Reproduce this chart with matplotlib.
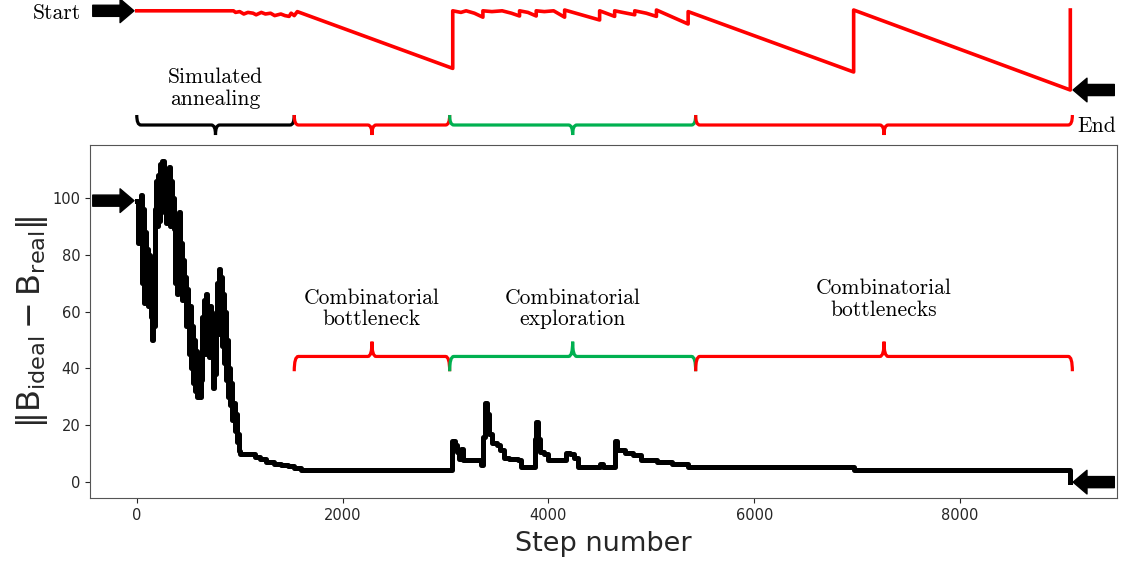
import numpy as np
import matplotlib
matplotlib.use('Agg')
import matplotlib.pyplot as plt
from matplotlib.path import Path
from matplotlib.patches import PathPatch


# noisy simulated annealing part, one value every 10 steps (0 .. 1000)
noisy_vals = [99, 84, 97, 88, 101, 70, 96, 63, 88, 66,
              82, 62, 80, 70, 58, 50, 72, 55, 96, 106,
              90, 108, 92, 112, 95, 113, 100, 110, 91, 108,
              94, 111, 90, 106, 92, 100, 89, 70, 80, 66,
              88, 95, 72, 84, 64, 78, 66, 72, 55, 68,
              58, 45, 62, 40, 55, 35, 50, 32, 46, 30,
              42, 30, 36, 58, 48, 64, 45, 66, 52, 60,
              44, 62, 46, 56, 33, 50, 38, 60, 70, 52,
              75, 58, 72, 48, 66, 42, 60, 36, 50, 30,
              40, 27, 35, 22, 28, 18, 24, 14, 17, 11]

# rest of the run, staircase (step, value)
tail_steps = [1000, 1150, 1200, 1260, 1330, 1400, 1470, 1530, 1600,
              3065, 3090, 3110, 3130, 3150, 3170, 3340, 3360, 3385, 3400,
              3420, 3450, 3500, 3530, 3570, 3620, 3700, 3735,
              3870, 3880, 3895, 3920, 3960, 4000, 4170, 4210, 4250, 4287,
              4500, 4525, 4650, 4670, 4740, 4820, 4900, 5050, 5200, 5360,
              6965, 9070]
tail_vals = [10, 9, 8, 7, 6.5, 6, 5.5, 5, 4.3,
             14.5, 13, 10.5, 8, 11.5, 7.8, 6, 16, 28, 24,
             17, 13.8, 13, 11.4, 8.4, 8, 7.8, 5.2,
             15, 21, 15, 10.7, 10, 7.8, 10.3, 9.8, 8.5, 5.3,
             6.5, 5.3, 14.3, 11.4, 10.4, 9.6, 7.8, 6.9, 6.2, 5.2,
             4.3, 0]

# schematic of the run drawn above the plot (step, level)
sched_steps = [0, 940, 960, 1000, 1040, 1080, 1130, 1160, 1210, 1250, 1300,
               1340, 1400, 1440, 1480, 1500, 1530, 1560,
               3070, 3070, 3150, 3200, 3280, 3363, 3363, 3450, 3550, 3640,
               3719, 3719, 3800, 3881, 3881, 3960, 4050, 4157, 4157,
               4497, 4497, 4560, 4643, 4643, 4720, 4838, 4838, 4950, 5049,
               5049, 5357, 5357, 6965, 6965, 9070, 9070]
sched_level = [99, 99, 97, 98, 95, 97, 96, 94, 97, 95, 96,
               93, 95, 93, 92, 96, 93, 98,
               27, 99, 97, 99, 96, 91, 99, 98, 99, 96,
               92.5, 99, 97, 92.5, 99, 98, 99, 91, 100,
               87.5, 99, 96, 92, 99, 97, 94, 99, 96, 92,
               100, 82.5, 98, 22.5, 100, 0, 100]

# phases of the run
phase_edges = [0, 1530, 3040, 5430, 9090]
phase_colors = ['black', 'red', '#00b050', 'red']
phase_names = ['Simulated\nannealing', 'Combinatorial\nbottleneck',
               'Combinatorial\nexploration', 'Combinatorial\nbottlenecks']


def brace(axis, x0, x1, y_bar, y_end, y_tip, color, lw):
    xc = 0.5 * (x0 + x1)
    d = 40
    verts = [(x0, y_end), (x0, y_bar), (x0 + d, y_bar), (xc - d, y_bar),
             (xc, y_bar), (xc, y_tip), (xc, y_bar), (xc + d, y_bar),
             (x1 - d, y_bar), (x1, y_bar), (x1, y_end)]
    codes = [Path.MOVETO, Path.CURVE3, Path.CURVE3, Path.LINETO,
             Path.CURVE3, Path.CURVE3, Path.CURVE3, Path.CURVE3,
             Path.LINETO, Path.CURVE3, Path.CURVE3]
    axis.add_patch(PathPatch(Path(verts, codes), fc='none', ec=color,
                             lw=lw, clip_on=False, capstyle='butt'))


serif = 'cmr10'
arrow = dict(arrowstyle='simple,head_length=10,head_width=17,tail_width=8',
             mutation_scale=1, fc='k', ec='k', shrinkA=0, shrinkB=2)

fig = plt.figure(figsize=(11.26, 5.70), dpi=100)
ax = fig.add_axes([0.080, 0.126, 0.912, 0.620])

# main curve
steps = list(np.arange(len(noisy_vals)) * 10) + tail_steps
vals = noisy_vals + tail_vals
ax.plot(steps, vals, color='k', lw=3.6, drawstyle='steps-post')
ax.set_xlim(ax.get_xlim())
ax.set_ylim(ax.get_ylim())

ax.set_xlabel('Step number', fontsize=19.5, color='#262626', labelpad=6)
ax.set_ylabel(r'$\Vert\mathrm{B}_{\mathrm{ideal}} - \mathrm{B}_{\mathrm{real}}\Vert$',
              fontsize=23, color='#262626', labelpad=2)
ax.tick_params(labelsize=10.5, colors='#262626')
for s in ax.spines.values():
    s.set_color('#555555')

# braces inside the plot
for i in range(1, 4):
    brace(ax, phase_edges[i], phase_edges[i + 1], 44.2, 39.0, 49.4,
          phase_colors[i], 2.3)
text_y = [61.0, 61.0, 64.3]
for i in range(1, 4):
    ax.text(0.5 * (phase_edges[i] + phase_edges[i + 1]), text_y[i - 1],
            phase_names[i], ha='center', va='center', fontfamily=serif,
            fontsize=15.5, linespacing=1.15)

# arrows on the curve
ax.annotate('', xy=(steps[0], vals[0]), xytext=(-44, 0),
            textcoords='offset pixels', arrowprops=arrow, annotation_clip=False)
ax.annotate('', xy=(steps[-1], vals[-1]), xytext=(44, 0),
            textcoords='offset pixels', arrowprops=arrow, annotation_clip=False)

# schematic on top
ax_top = fig.add_axes([0.080, 0.7456, 0.912, 0.2544], sharex=ax)
ax_top.axis('off')
ax_top.set_ylim(-68.75, 112.5)
ax_top.plot(sched_steps, sched_level, color='red', lw=2.6, clip_on=False)

for i in range(4):
    brace(ax_top, phase_edges[i], phase_edges[i + 1], -43.75, -31.25, -56.25,
          phase_colors[i], 2.3)
ax_top.text(0.5 * (phase_edges[0] + phase_edges[1]), 2.0, phase_names[0],
            ha='center', va='center', fontfamily=serif, fontsize=15.5,
            linespacing=1.15)

ax_top.annotate('', xy=(sched_steps[0], sched_level[0]), xytext=(-44, 0),
                textcoords='offset pixels', arrowprops=arrow,
                annotation_clip=False)
ax_top.annotate('Start', xy=(sched_steps[0], sched_level[0]), xytext=(-56, -2),
                textcoords='offset pixels', ha='right', va='center',
                fontfamily=serif, fontsize=15.5, annotation_clip=False)
ax_top.annotate('', xy=(sched_steps[-2], sched_level[-2]), xytext=(44, 0),
                textcoords='offset pixels', arrowprops=arrow,
                annotation_clip=False)
ax_top.annotate('End', xy=(phase_edges[-1], -43.75), xytext=(5, -1),
                textcoords='offset pixels', ha='left', va='center',
                fontfamily=serif, fontsize=15.5, annotation_clip=False)

fig.savefig('out.png', dpi=100)
